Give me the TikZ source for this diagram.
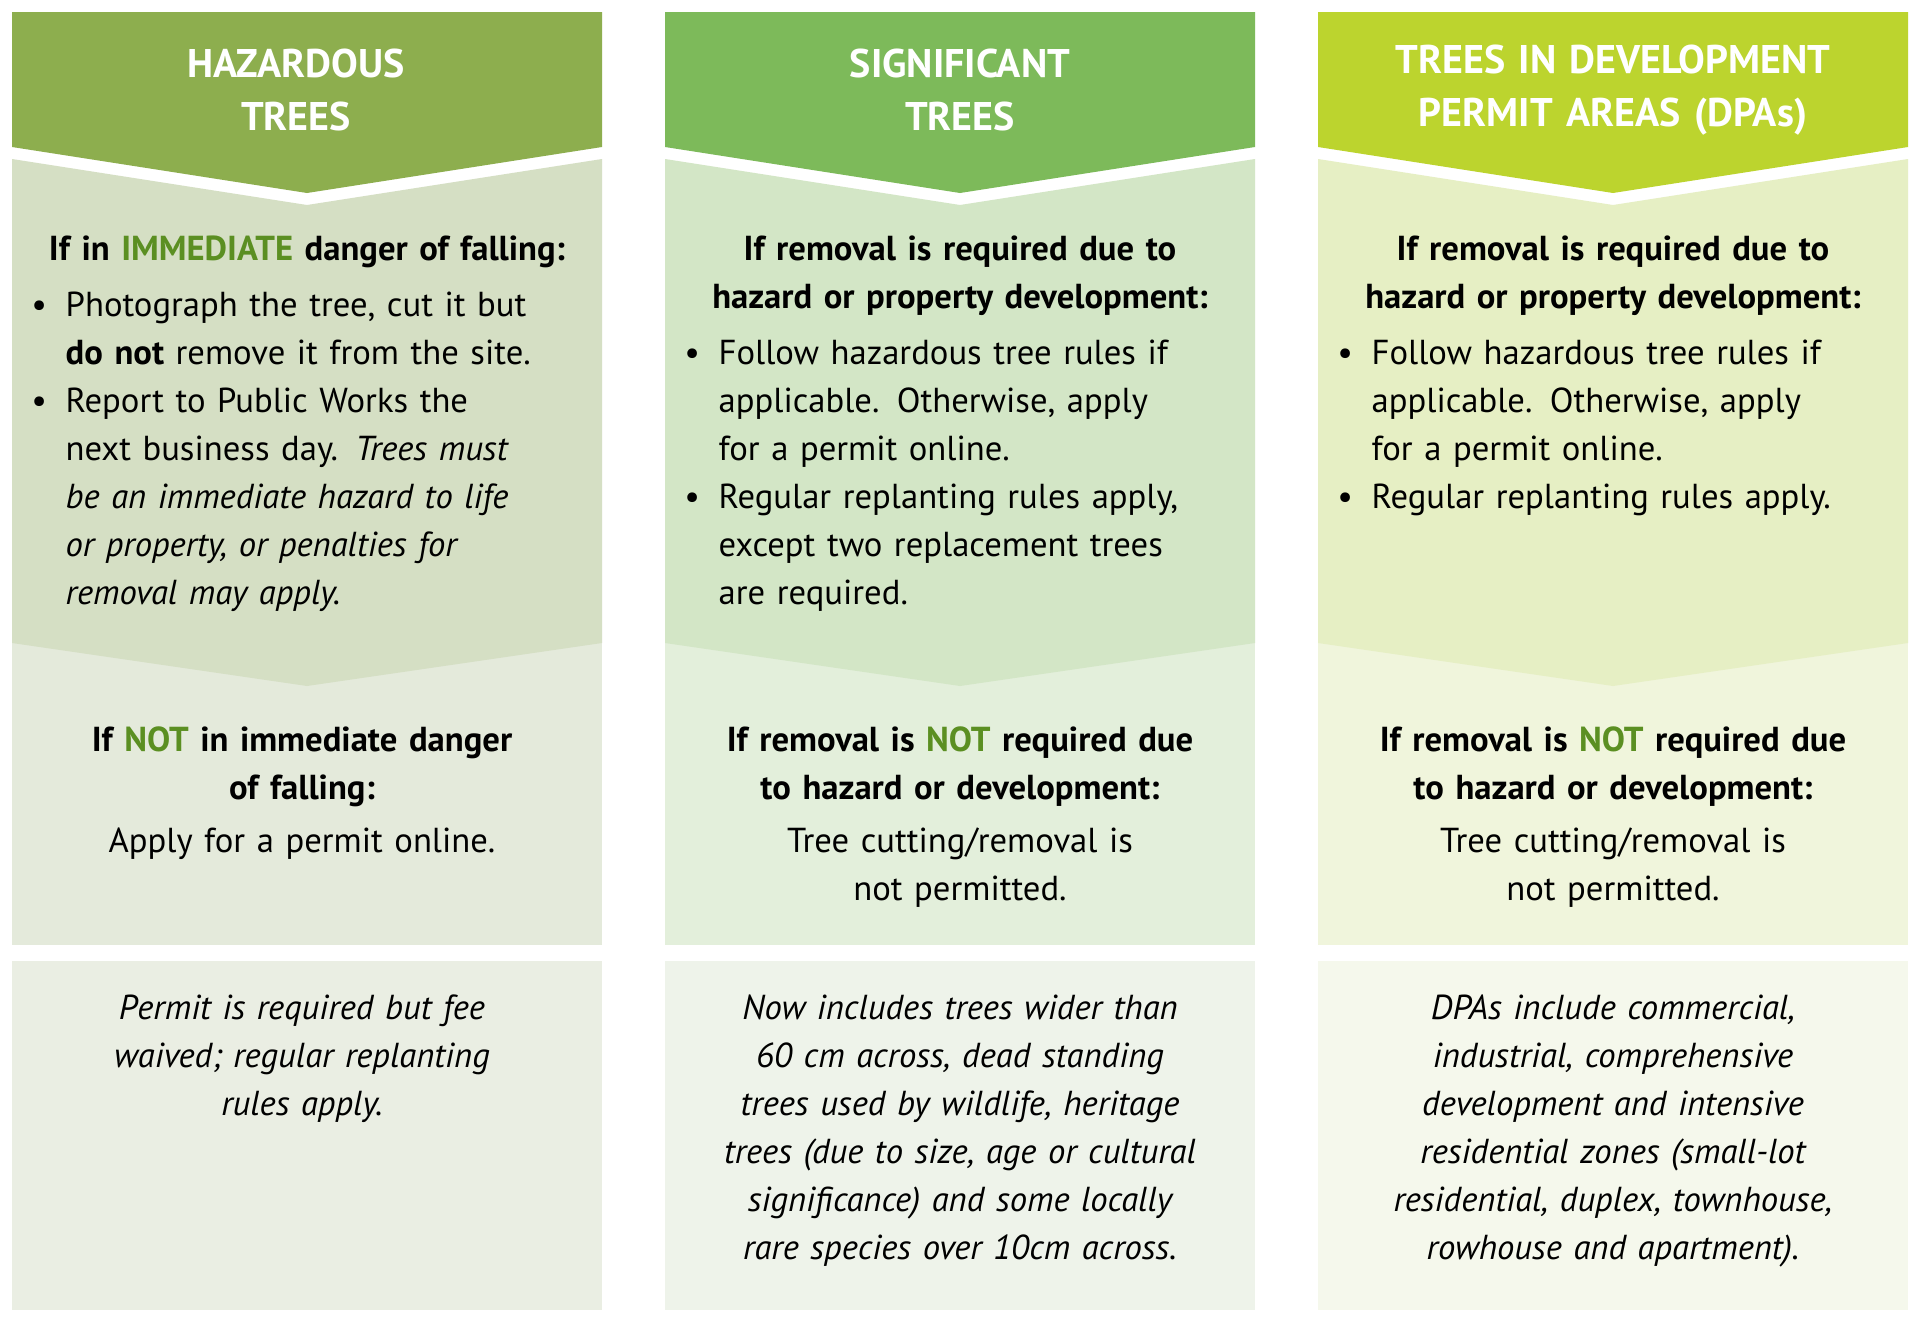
\documentclass[tikz,border=0pt]{standalone}
\usepackage{fontspec}
\setmainfont{PT Sans}
\usepackage{enumitem}
\setlist[itemize]{leftmargin=34pt,labelsep=14pt,itemsep=0pt,topsep=0pt,parsep=0pt,label=\textbullet}
\definecolor{hl}{HTML}{5B8F22}
\definecolor{hA}{HTML}{8DAE4E}\definecolor{hB}{HTML}{7DBA5A}\definecolor{hC}{HTML}{BCD42E}
\definecolor{aA}{HTML}{D5DFC4}\definecolor{bA}{HTML}{E4EADB}\definecolor{cA}{HTML}{EAEEE3}
\definecolor{aB}{HTML}{D3E6C6}\definecolor{bB}{HTML}{E3EFDB}\definecolor{cB}{HTML}{EEF3EA}
\definecolor{aC}{HTML}{E6EFC4}\definecolor{bC}{HTML}{F0F5DC}\definecolor{cC}{HTML}{F5F8EC}
\newcommand{\G}[1]{\textcolor{hl}{#1}}
\tikzset{
 hdr/.style={font=\fontsize{30}{40}\selectfont\bfseries,text=white,align=center,text width=430pt},
 body/.style={font=\fontsize{26}{36}\selectfont,text width=430pt,anchor=north,inner sep=0pt},
 ital/.style={body,align=center,font=\fontsize{26}{36}\selectfont\itshape},
}
\begin{document}
\begin{tikzpicture}[x=0.75pt,y=-0.75pt]
\useasboundingbox[fill=white] (0,0) rectangle (1920,1324);
\foreach \x/\c in {12/A,665/B,1318/C}{
 \pgfmathsetmacro{\cx}{\x+295}
 \fill[b\c] (\x,640) rectangle ++(590,305);
 \fill[c\c] (\x,961) rectangle ++(590,349);
 \fill[a\c] (\x,159) -- (\cx,205) -- (\x+590,159) -- (\x+590,643) -- (\cx,686) -- (\x,643) -- cycle;
 \fill[h\c] (\x,12) -- (\x+590,12) -- (\x+590,147) -- (\cx,193) -- (\x,147) -- cycle;
}
% headers
\node[hdr] (h1) at (296,90) {HAZARDOUS\\TREES};
\node[hdr] (h2) at (960,90) {SIGNIFICANT\\TREES};
\node[hdr] (h3) at (1613,90) {TREES IN DEVELOPMENT\\PERMIT AREAS (DPAs)};
% section 1
\node[body] (a1) at (307,236) {\centering\textbf{If in \G{IMMEDIATE} danger of falling:}\par\vspace{4pt}
\begin{itemize}
\item Photograph the tree, cut it but\newline \textbf{do not} remove it from the site.
\item Report to Public Works the\newline next business day. \textit{Trees must\newline be an immediate hazard to life\newline or property, or penalties for\newline removal may apply.}
\end{itemize}};
\node[body] (a2) at (960,236) {\centering\textbf{If removal is required due to\\hazard or property development:}\par\vspace{4pt}
\begin{itemize}
\item Follow hazardous tree rules if\newline applicable. Otherwise, apply\newline for a permit online.
\item Regular replanting rules apply,\newline except two replacement trees\newline are required.
\end{itemize}};
\node[body] (a3) at (1613,236) {\centering\textbf{If removal is required due to\\hazard or property development:}\par\vspace{4pt}
\begin{itemize}
\item Follow hazardous tree rules if\newline applicable. Otherwise, apply\newline for a permit online.
\item Regular replanting rules apply.
\end{itemize}};
% section 2
\node[body,align=center] (b1) at (302,726) {\textbf{If \G{NOT} in immediate danger}\\\textbf{of falling:}\\[4pt]Apply for a permit online.};
\node[body,align=center] (b2) at (960,726) {\textbf{If removal is \G{NOT} required due}\\\textbf{to hazard or development:}\\[4pt]Tree cutting/removal is\\not permitted.};
\node[body,align=center] (b3) at (1613,726) {\textbf{If removal is \G{NOT} required due}\\\textbf{to hazard or development:}\\[4pt]Tree cutting/removal is\\not permitted.};
% section 3
\node[ital] (c1) at (302,995) {Permit is required but fee\\waived; regular replanting\\rules apply.};
\node[ital] (c2) at (960,995) {Now includes trees wider than\\60 cm across, dead standing\\trees used by wildlife, heritage\\trees (due to size, age or cultural\\significance) and some locally\\rare species over 10cm across.};
\node[ital] (c3) at (1613,995) {DPAs include commercial,\\industrial, comprehensive\\development and intensive\\residential zones (small-lot\\residential, duplex, townhouse,\\rowhouse and apartment).};
\end{tikzpicture}
\end{document}
